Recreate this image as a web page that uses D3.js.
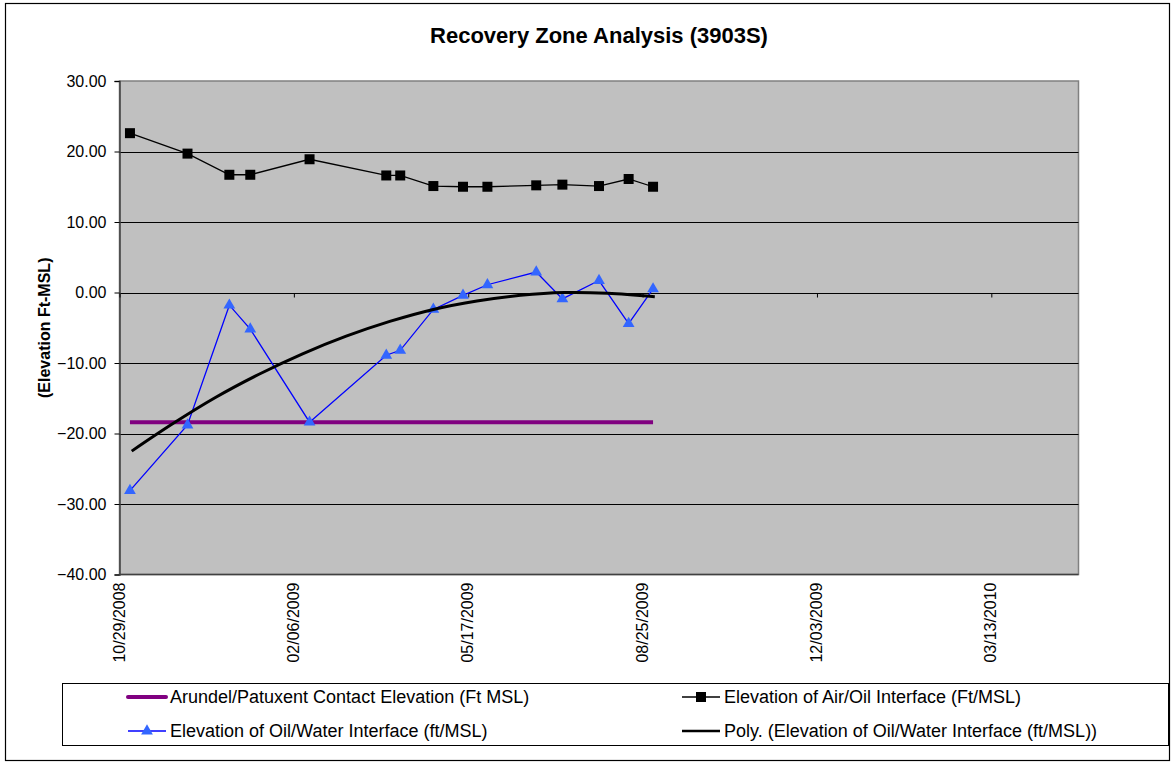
<!DOCTYPE html>
<html>
<head>
<meta charset="utf-8">
<script src="https://cdn.jsdelivr.net/npm/d3@7"></script>
<style>
body{margin:0;background:#fff;}
text{font-family:"Liberation Sans",Arial,sans-serif;}
</style>
</head>
<body>
<svg id="chart" width="1172" height="764"></svg>
<script>
// ---- data ----
const sampleDates = ["2008-11-04","2008-12-07","2008-12-31","2009-01-12","2009-02-15","2009-03-31","2009-04-08","2009-04-27","2009-05-14","2009-05-28","2009-06-25","2009-07-10","2009-07-31","2009-08-17","2009-08-31"];
const airOil = [22.6,19.7,16.7,16.7,18.9,16.6,16.6,15.1,15.0,15.0,15.2,15.3,15.1,16.1,15.0];
const oilWater = [-28.1,-18.8,-1.8,-5.2,-18.4,-8.9,-8.2,-2.4,-0.4,1.1,2.9,-0.9,1.7,-4.4,0.5];
const contactDates = ["2008-11-04","2009-08-31"];
const contactElev = [-18.4,-18.4];
const trendDates = ["2008-11-05","2008-11-28","2008-12-23","2009-01-17","2009-02-11","2009-03-08","2009-04-02","2009-04-27","2009-05-22","2009-06-16","2009-07-11","2009-08-05","2009-09-01"];
const trendVals = [-22.5,-18.7,-14.9,-11.6,-8.7,-6.2,-4.1,-2.4,-1.2,-0.4,0.0,-0.1,-0.6];
const xTickLabels = ["10/29/2008","02/06/2009","05/17/2009","08/25/2009","12/03/2009","03/13/2010"];
const yTicks = [30,20,10,0,-10,-20,-30,-40];
const title = "Recovery Zone Analysis (3903S)";
const yLabel = "(Elevation Ft-MSL)";
const legendItems = ["Arundel/Patuxent Contact Elevation (Ft MSL)","Elevation of Air/Oil Interface (Ft/MSL)","Elevation of Oil/Water Interface (ft/MSL)","Poly. (Elevation of Oil/Water Interface (ft/MSL))"];

// ---- drawing ----
const parse = d3.utcParse("%Y-%m-%d");
const parseTick = d3.utcParse("%m/%d/%Y");
const svg = d3.select("#chart");
const L = 119.5, R = 1078.5, T = 81, B = 574.5;
const FONT = "'Liberation Sans',Arial,sans-serif";

svg.append("rect").attr("x",5.5).attr("y",3.5).attr("width",1164).attr("height",757)
  .attr("fill","#fff").attr("stroke","#000").attr("stroke-width",1.2);

const x = d3.scaleUtc().domain([parse("2008-10-29"), parse("2010-05-02")]).range([L,R]);
const y = d3.scaleLinear().domain([-40,30]).range([B,T]);

svg.append("rect").attr("x",L).attr("y",T).attr("width",R-L).attr("height",B-T)
  .attr("fill","#c0c0c0").attr("stroke","#808080").attr("stroke-width",1.5);

// gridlines
svg.append("g").selectAll("line").data(yTicks.filter(v=>v>-40 && v<30)).join("line")
  .attr("x1",L).attr("x2",R).attr("y1",d=>Math.round(y(d))+0.5).attr("y2",d=>Math.round(y(d))+0.5)
  .attr("stroke","#000").attr("stroke-width",1);

// y axis
const yAxis = d3.axisLeft(y).tickValues(yTicks).tickSize(5).tickFormat(d3.format(".2f"));
const gy = svg.append("g").attr("transform",`translate(${L},0)`).call(yAxis);
gy.attr("font-size",null).attr("font-family",null);
gy.select(".domain").attr("stroke","#404040").attr("stroke-width",1.5);
gy.selectAll(".tick line").attr("stroke","#000");
gy.selectAll(".tick text").attr("fill","#000").attr("x",-13)
  .style("font-size","16px").style("font-family",FONT);

// x axis (date axis crossing at 0, labels at bottom)
const xTickDates = xTickLabels.map(s=>parseTick(s));
const xAxis = d3.axisBottom(x).tickValues(xTickDates).tickSize(4).tickFormat("");
const gx0 = svg.append("g").attr("transform",`translate(0,${Math.round(y(0))+0.5})`).call(xAxis);
gx0.select(".domain").remove();
gx0.selectAll(".tick line").attr("stroke","#000");
svg.append("line").attr("x1",L).attr("x2",R).attr("y1",B).attr("y2",B).attr("stroke","#404040").attr("stroke-width",1.5);
svg.append("g").selectAll("text").data(xTickDates).join("text")
  .attr("transform",(d,i)=>`translate(${x(d)+5},${B+8}) rotate(-90)`)
  .attr("text-anchor","end").style("font-size","16px").attr("fill","#000")
  .text((d,i)=>xTickLabels[i]);

// title & y label
svg.append("text").attr("x",(L+R)/2).attr("y",43).attr("text-anchor","middle")
  .style("font-size","22px").attr("font-weight","bold").text(title);
svg.append("text").attr("transform",`translate(50,${(T+B)/2}) rotate(-90)`)
  .attr("text-anchor","middle").style("font-size","16px").attr("font-weight","bold").text(yLabel);

// series
const line = d3.line().x(d=>x(d[0])).y(d=>y(d[1]));
const contact = contactDates.map((d,i)=>[parse(d),contactElev[i]]);
const air = sampleDates.map((d,i)=>[parse(d),airOil[i]]);
const water = sampleDates.map((d,i)=>[parse(d),oilWater[i]]);
const trend = trendDates.map((d,i)=>[parse(d),trendVals[i]]);

svg.append("path").datum(contact).attr("d",line).attr("fill","none").attr("stroke","#800080").attr("stroke-width",4);

svg.append("path").datum(air).attr("d",line).attr("fill","none").attr("stroke","#000").attr("stroke-width",1.3);
svg.append("g").selectAll("rect").data(air).join("rect")
  .attr("x",d=>x(d[0])-5).attr("y",d=>y(d[1])-5).attr("width",10).attr("height",10).attr("fill","#000");

svg.append("path").datum(water).attr("d",line).attr("fill","none").attr("stroke","#0000ff").attr("stroke-width",1.3);
const tri = d3.symbol().type(d3.symbolTriangle).size(60);
svg.append("g").selectAll("path").data(water).join("path")
  .attr("d",tri).attr("transform",d=>`translate(${x(d[0])},${y(d[1])})`).attr("fill","#3366ff");

svg.append("path").datum(trend).attr("d",d3.line().x(d=>x(d[0])).y(d=>y(d[1])).curve(d3.curveCatmullRom)).attr("fill","none")
  .attr("stroke","#000").attr("stroke-width",3);

// legend
const lg = svg.append("g");
lg.append("rect").attr("x",62.5).attr("y",683.5).attr("width",1106).attr("height",62)
  .attr("fill","#fff").attr("stroke","#000").attr("stroke-width",1);
const pos = [[128,697],[682,697],[128,731],[682,731]];
legendItems.forEach((t,i)=>{
  const [px,py]=pos[i];
  const g = lg.append("g");
  if(i===0){
    g.append("line").attr("x1",px).attr("x2",px+38).attr("y1",py).attr("y2",py).attr("stroke","#800080").attr("stroke-width",4).attr("stroke-linecap","round");
  } else if(i===1){
    g.append("line").attr("x1",px).attr("x2",px+38).attr("y1",py).attr("y2",py).attr("stroke","#000").attr("stroke-width",1.3);
    g.append("rect").attr("x",px+14).attr("y",py-5).attr("width",10).attr("height",10).attr("fill","#000");
  } else if(i===2){
    g.append("line").attr("x1",px).attr("x2",px+38).attr("y1",py).attr("y2",py).attr("stroke","#0000ff").attr("stroke-width",1.3);
    g.append("path").attr("d",tri).attr("transform",`translate(${px+19},${py})`).attr("fill","#3366ff");
  } else {
    g.append("line").attr("x1",px).attr("x2",px+38).attr("y1",py).attr("y2",py).attr("stroke","#000").attr("stroke-width",2.5);
  }
  g.append("text").attr("x",px+42).attr("y",py+6).style("font-size","18px").text(t);
});
</script>
</body>
</html>
